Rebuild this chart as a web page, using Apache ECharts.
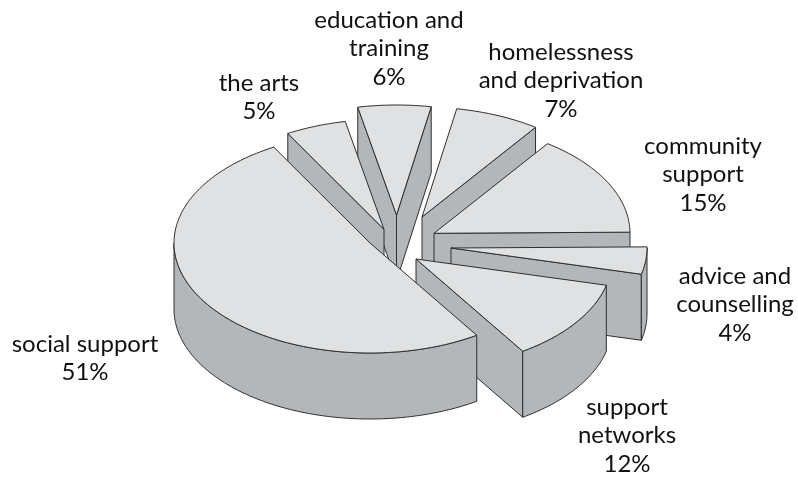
<!DOCTYPE html>
<html>
<head>
<meta charset="utf-8">
<style>html,body{margin:0;padding:0;background:#fff}#chart{width:798px;height:480px}</style>
<script src="https://cdn.jsdelivr.net/npm/echarts@6/dist/echarts.min.js"></script>
</head>
<body>
<div id="chart"></div>
<script>
// Share of funding by activity, clockwise from support for social groups
const categories = ['social support', 'the arts', 'education and\ntraining', 'homelessness\nand deprivation', 'community\nsupport', 'advice and\ncounselling', 'support\nnetworks'];
const shares = [51, 5, 6, 7, 15, 4, 12];

// Projection of the pie disc
const radiusX = 196, radiusY = 110, thickness = 66;
const startAngle = 57;                     // screen angle where the first slice begins
const centre = [370, 243];
// How far each slice is pulled out from the centre
const explode = [[0, 0], [14, -13.7], [26.5, -28], [52, -26], [64, -9.7], [81, 5], [46, 16]];
// Back-to-front painting order
const paintOrder = [2, 3, 1, 4, 5, 6, 0];
// Label anchors (centre of the text block's first line)
const labelAnchors = [[85, 344], [259, 83], [389, 20], [561, 52], [703, 146], [735, 276], [627, 407]];
const lineHeight = 28.5;
const topColor = '#dfe1e2', sideColor = '#b4b7b9', edgeColor = '#2e2e2e';

const rad = d => d * Math.PI / 180;
const total = shares.reduce((a, b) => a + b, 0);
let cursor = startAngle;
const slices = shares.map((v, i) => {
  const from = cursor, to = cursor + v / total * 360;
  cursor = to;
  return { from, to, apex: [centre[0] + explode[i][0], centre[1] + explode[i][1]] };
});

function rimPoint(s, t) {
  return [s.apex[0] + radiusX * Math.cos(rad(t)), s.apex[1] + radiusY * Math.sin(rad(t))];
}
function arc(s, from, to) {
  const pts = [], n = Math.max(2, Math.ceil(to - from));
  for (let k = 0; k <= n; k++) pts.push(rimPoint(s, from + (to - from) * k / n));
  return pts;
}
const drop = p => [p[0], p[1] + thickness];

function poly(points, fill) {
  return {
    type: 'polygon',
    shape: { points },
    style: { fill, stroke: edgeColor, lineWidth: 1, lineJoin: 'round' }
  };
}

// A radial side face shows only when the slice top lies above that edge
function radialFaceVisible(s, t) {
  const mid = rad((s.from + s.to) / 2);
  const cx = radiusX * Math.cos(mid) * 0.6, cy = radiusY * Math.sin(mid) * 0.6;
  const ex = Math.cos(rad(t)) * radiusX, ey = Math.sin(rad(t)) * radiusY;
  return (s.to - s.from) < 180 && cy < cx * ey / ex;
}

function drawSlice(params, api) {
  const i = api.value(0);
  const s = slices[i];
  const children = [];
  [s.from, s.to].forEach(t => {
    if (radialFaceVisible(s, t)) {
      const p = rimPoint(s, t);
      children.push(poly([s.apex, p, drop(p), drop(s.apex)], sideColor));
    }
  });
  // Outer wall: only the part of the rim that faces the viewer
  [[0, 180], [360, 540]].forEach(range => {
    const a = Math.max(s.from, range[0]), b = Math.min(s.to, range[1]);
    if (b > a) {
      const upper = arc(s, a, b);
      children.push(poly(upper.concat(upper.map(drop).reverse()), sideColor));
    }
  });
  children.push(poly([s.apex].concat(arc(s, s.from, s.to)), topColor));
  const anchor = labelAnchors[i];
  children.push({
    type: 'text',
    silent: true,
    style: {
      text: categories[i] + '\n' + api.value(1) + '%',
      x: anchor[0], y: anchor[1] - lineHeight / 2,
      align: 'center', verticalAlign: 'top',
      fill: '#111111', lineHeight,
      font: '24px Lato'
    }
  });
  return { type: 'group', children };
}

const chart = echarts.init(document.getElementById('chart'), null, { renderer: 'canvas' });
chart.setOption({
  animation: false,
  backgroundColor: '#ffffff',
  series: [{
    type: 'custom',
    coordinateSystem: 'none',
    renderItem: drawSlice,
    clip: false,
    data: paintOrder.map(i => [i, shares[i]])
  }]
});
</script>
</body>
</html>
